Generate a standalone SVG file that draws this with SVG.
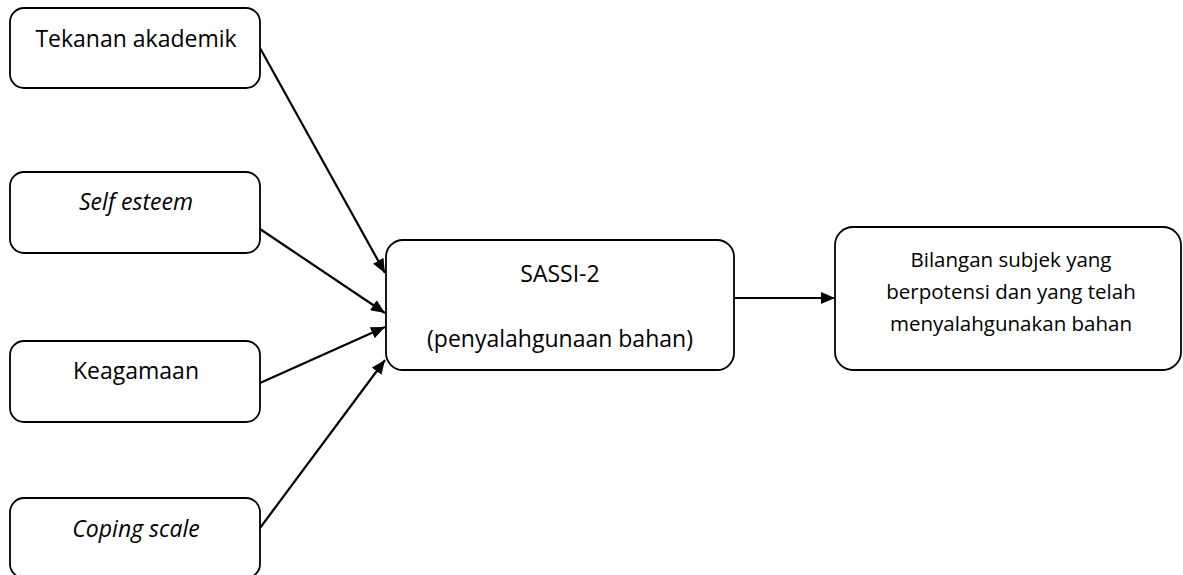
<svg xmlns="http://www.w3.org/2000/svg" width="1183" height="575" viewBox="0 0 1183 575">
<style>
.box{fill:#fff;stroke:#000;stroke-width:1.8}
.t{font-family:"Open Sans","Liberation Sans",sans-serif;font-size:23px;fill:#000;text-anchor:middle}
.s{font-size:20.5px}
.i{font-style:italic}
.c{stroke:#000;stroke-width:2.2;fill:none;marker-end:url(#ah)}
</style>
<defs>
<marker id="ah" viewBox="0 0 14 12" refX="14" refY="6" markerWidth="14" markerHeight="12" markerUnits="userSpaceOnUse" orient="auto">
<path d="M0,0 L14,6 L0,12 Z" fill="#000"/>
</marker>
</defs>
<g id="connectors">
<line class="c" x1="260" y1="48" x2="385" y2="273"/>
<line class="c" x1="260" y1="229" x2="385" y2="313"/>
<line class="c" x1="260" y1="383" x2="385" y2="327"/>
<line class="c" x1="260" y1="528" x2="385" y2="360"/>
<line class="c" x1="734" y1="298" x2="835" y2="298"/>
</g>
<g id="n1"><rect class="box" x="10" y="8" width="250" height="80" rx="14"/><text class="t" x="136" y="47">Tekanan akademik</text></g>
<g id="n2"><rect class="box" x="10" y="172" width="250" height="81" rx="14"/><text class="t i" x="136" y="210">Self esteem</text></g>
<g id="n3"><rect class="box" x="10" y="341" width="250" height="81" rx="14"/><text class="t" x="136" y="379">Keagamaan</text></g>
<g id="n4"><rect class="box" x="10" y="498" width="250" height="80" rx="14"/><text class="t i" x="136" y="537">Coping scale</text></g>
<g id="n5"><rect class="box" x="386" y="240" width="348" height="130" rx="17"/><text class="t" x="560" y="282">SASSI-2</text><text class="t" x="560" y="347">(penyalahgunaan bahan)</text></g>
<g id="n6"><rect class="box" x="835" y="227" width="346" height="143" rx="18"/><text class="t s" x="1011" y="267">Bilangan subjek yang</text><text class="t s" x="1011" y="299">berpotensi dan yang telah</text><text class="t s" x="1011" y="331">menyalahgunakan bahan</text></g>
</svg>
